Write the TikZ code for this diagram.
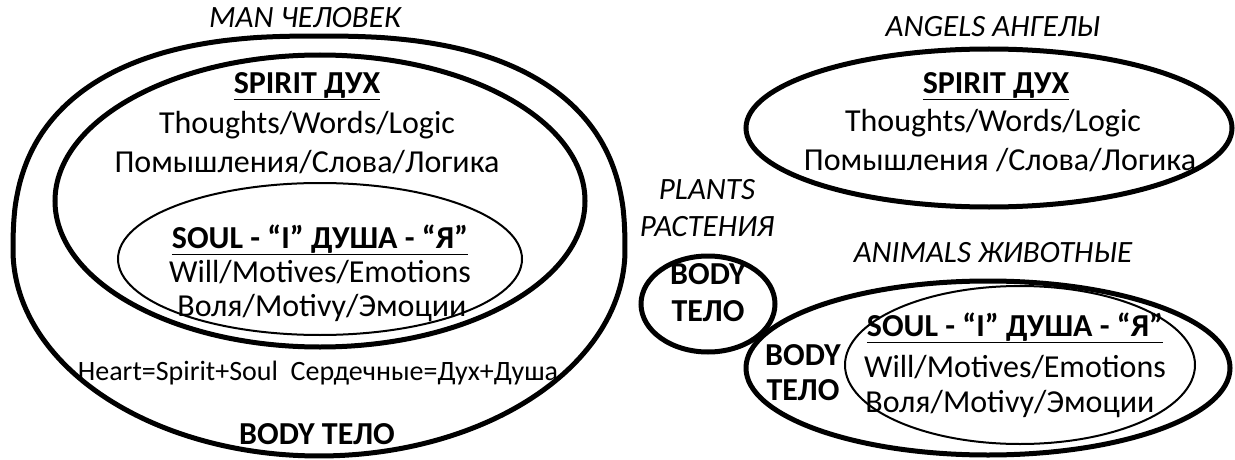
\documentclass[tikz,border=0pt]{standalone}
\usepackage{fontspec}
\setmainfont{Carlito}
\usetikzlibrary{shapes.geometric}
\begin{document}
\begin{tikzpicture}[x=1pt,y=-1pt,
    txt/.style={font=\fontsize{32}{38}\selectfont, inner sep=0pt},
    head/.style={font=\fontsize{32}{38}\selectfont\bfseries, inner sep=0pt},
    title/.style={font=\fontsize{31}{37}\selectfont\itshape, inner sep=0pt},
    ring/.style={draw, ellipse, line width=5pt, inner sep=0pt},
    thinring/.style={draw, ellipse, line width=2pt, inner sep=0pt}]
  \useasboundingbox (0,0) rectangle (1235,460);

  % man: the outer ring is flattened at the top only
  \coordinate (man) at (319,250);
  \draw[line width=5pt] plot[domain=1.5:358.5, samples=120, smooth cycle]
    ({319+306*sign(cos(\x))*abs(cos(\x))^(sin(\x)>0 ? 1 : 0.8)},
     {250+(sin(\x)>0 ? 206 : 214)*sign(sin(\x))*abs(sin(\x))^(sin(\x)>0 ? 1 : 0.8)});
  \node[ring, minimum width=530pt, minimum height=292pt] (manspirit) at (320,201) {};
  \node[thinring, minimum width=404pt, minimum height=152pt] (mansoul) at (320,259) {};

  \node[title] (mantitle) at (305,18) {MAN ЧЕЛОВЕК};
  \node[head] (sp1) at (307,86) {\underline{SPIRIT ДУХ}};
  \node[txt] (sp2) at (307,125) {Thoughts/Words/Logic};
  \node[txt] (sp3) at (307,162) {Помышления/Слова/Логика};
  \node[head] (so1) at (320,240) {\underline{SOUL - “I” ДУША - “Я”}};
  \node[txt] (so2) at (320,272) {Will/Motives/Emotions};
  \node[txt] (so3) at (322,308) {Воля/Motivy/Эмоции};
  \node[txt, font=\fontsize{28}{34}\selectfont] (heart) at (318,373) {Heart=Spirit+Soul\ \ Сердечные=Дух+Душа};
  \node[head] (manbody) at (317,434) {BODY ТЕЛО};

  % angels
  \node[title] (angtitle) at (993,27) {ANGELS АНГЕЛЫ};
  \node[ring, minimum width=486pt, minimum height=158pt] (angels) at (989,128) {};
  \node[head] (asp1) at (996,86) {\underline{SPIRIT ДУХ}};
  \node[txt] (asp2) at (993,123) {Thoughts/Words/Logic};
  \node[txt] (asp3) at (1000,160) {Помышления /Слова/Логика};

  % plants
  \node[title] (pl1) at (707,190) {PLANTS};
  \node[title] (pl2) at (707,227) {РАСТЕНИЯ};
  \node[ring, minimum width=134pt, minimum height=96pt] (plants) at (708,304) {};
  \node[head] (pb1) at (708,274) {BODY};
  \node[head] (pb2) at (708,311) {ТЕЛО};

  % animals
  \node[title] (antitle) at (993,253) {ANIMALS ЖИВОТНЫЕ};
  \node[ring, minimum width=484pt, minimum height=174pt] (animals) at (988,368) {};
  \node[thinring, minimum width=350pt, minimum height=158pt] (ansoul) at (1020,365) {};
  \node[head] (ab1) at (803,355) {BODY};
  \node[head] (ab2) at (803,390) {ТЕЛО};
  \node[head] (aso1) at (1015,328) {\underline{SOUL - “I” ДУША - “Я”}};
  \node[txt] (aso2) at (1015,367) {Will/Motives/Emotions};
  \node[txt] (aso3) at (1010,404) {Воля/Motivy/Эмоции};
\end{tikzpicture}
\end{document}
